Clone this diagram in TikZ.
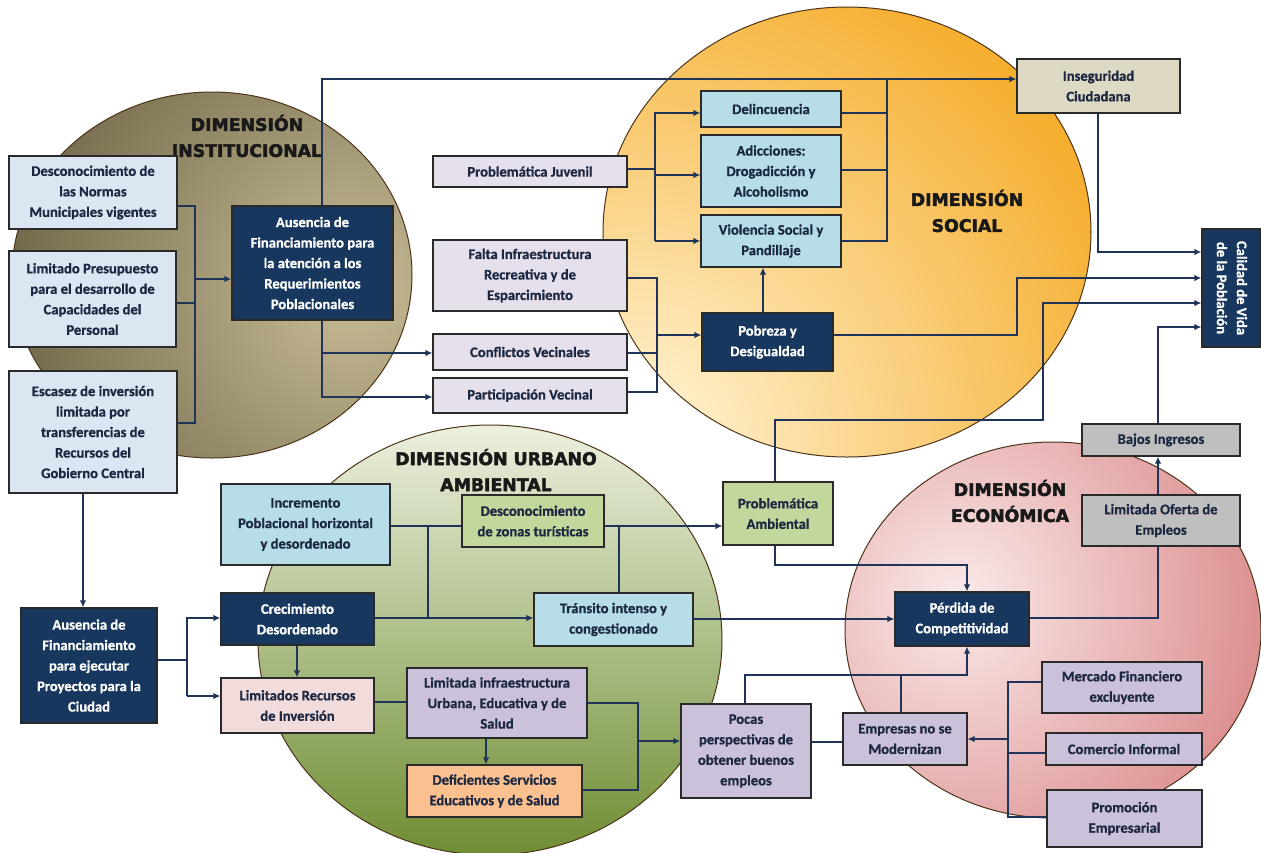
\documentclass[tikz,border=0pt]{standalone}
\usepackage{fontspec}
\setmainfont{Carlito}[BoldFeatures={FakeBold=0.8}]
\newfontfamily\headfont{DejaVu Sans}[BoldFeatures={FakeBold=2.6}]
\usetikzlibrary{arrows.meta}
\definecolor{txt}{HTML}{1C2841}
\definecolor{conncol}{HTML}{1F3458}
\definecolor{boxline}{HTML}{2A2A2A}
\definecolor{cBlueGray}{HTML}{DCE6F2}
\definecolor{cNavy}{HTML}{17375E}
\definecolor{cLavL}{HTML}{E5E0EC}
\definecolor{cCyan}{HTML}{B7DEE8}
\definecolor{cBeige}{HTML}{DDD9C4}
\definecolor{cGray}{HTML}{BFBFBF}
\definecolor{cGreen}{HTML}{C3D69B}
\definecolor{cPink}{HTML}{F2DCDB}
\definecolor{cLav}{HTML}{CCC1DA}
\definecolor{cOrange}{HTML}{FAC090}
\definecolor{instIn}{HTML}{C8BD96}
\definecolor{instOut}{HTML}{6A5F42}
\definecolor{socIn}{HTML}{FFF5D8}
\definecolor{socOut}{HTML}{F5A922}
\definecolor{ecoIn}{HTML}{FAEAEA}
\definecolor{ecoOut}{HTML}{D98585}
\definecolor{urbTop}{HTML}{ECF0DE}
\definecolor{urbBot}{HTML}{6F8D33}
\tikzset{
  bx/.style={draw=boxline, line width=1.1pt, align=center, inner sep=1pt,
    font=\bfseries\fontsize{14.6}{20.5}\selectfont, text=txt},
  darkbx/.style={bx, fill=cNavy, text=white},
  conn/.style={draw=conncol, line width=1.8pt},
  arr/.style={conn, -{Latex[length=7pt,width=6.5pt]}},
  head/.style={align=center, font=\headfont\bfseries\fontsize{17.3}{26}\selectfont, text=black!90},
  circline/.style={draw=black!60!brown, line width=1pt}
}
\begin{document}
\begin{tikzpicture}[x=1pt,y=-1pt]
\useasboundingbox (0,0) rectangle (1261,852);
\fill[white] (0,0) rectangle (1261,852);

% ---- dimension circles ----
\begin{scope}
  \clip (212,275) ellipse [x radius=200, y radius=183];
  \shade[inner color=instIn, outer color=instOut] (350,290) circle [radius=380];
\end{scope}
\draw[circline] (212,275) ellipse [x radius=200, y radius=183];
\begin{scope}
  \clip (847,232) ellipse [x radius=244, y radius=225];
  \shade[inner color=socIn, outer color=socOut] (640,440) circle [radius=560];
\end{scope}
\draw[circline] (847,232) ellipse [x radius=244, y radius=225];
\begin{scope}
  \clip (1053,630) ellipse [x radius=208, y radius=188];
  \shade[inner color=ecoIn, outer color=ecoOut] (960,600) circle [radius=340];
\end{scope}
\draw[circline] (1053,630) ellipse [x radius=208, y radius=188];
\shade[top color=urbTop, bottom color=urbBot]
  (490,640) ellipse [x radius=232, y radius=215];
\draw[circline] (490,640) ellipse [x radius=232, y radius=215];

% ---- headings ----
\node[head] (hInst) at (247,136) {DIMENSIÓN\\INSTITUCIONAL};
\node[head] (hSoc) at (967,211) {DIMENSIÓN\\SOCIAL};
\node[head] (hUrb) at (496,470) {DIMENSIÓN URBANO\\AMBIENTAL};
\node[head] (hEco) at (1010,501) {DIMENSIÓN\\ECONÓMICA};

% ---- boxes ----
\node[bx, fill=cBlueGray, minimum width=168, minimum height=73] (B1) at (93,192.5) {Desconocimiento de\\las Normas\\Municipales vigentes};
\node[bx, fill=cBlueGray, minimum width=167, minimum height=96] (B2) at (92.5,299) {Limitado Presupuesto\\para el desarrollo de\\Capacidades del\\Personal};
\node[bx, fill=cBlueGray, minimum width=168, minimum height=122] (B3) at (93,432) {Escasez de inversión\\limitada por\\transferencias de\\Recursos del\\Gobierno Central};
\node[darkbx, minimum width=161, minimum height=114] (A1) at (312.5,263) {Ausencia de\\Financiamiento para\\la atención a los\\Requerimientos\\Poblacionales};

\node[bx, fill=cLavL, minimum width=194, minimum height=31] (PJ) at (530,171.5) {Problemática Juvenil};
\node[bx, fill=cLavL, minimum width=194, minimum height=71] (FI) at (530,275.5) {Falta Infraestructura\\Recreativa y de\\Esparcimiento};
\node[bx, fill=cLavL, minimum width=194, minimum height=36] (CV) at (530,352) {Conflictos Vecinales};
\node[bx, fill=cLavL, minimum width=194, minimum height=35] (PV) at (530,395.5) {Participación Vecinal};

\node[bx, fill=cCyan, minimum width=140, minimum height=36] (DEL) at (771,109) {Delincuencia};
\node[bx, fill=cCyan, minimum width=140, minimum height=72] (AD) at (771,171) {Adicciones:\\Drogadicción y\\Alcoholismo};
\node[bx, fill=cCyan, minimum width=140, minimum height=52] (VS) at (771,241) {Violencia Social y\\Pandillaje};
\node[darkbx, minimum width=131, minimum height=58] (PD) at (767.5,342) {Pobreza y\\Desigualdad};

\node[bx, fill=cBeige, minimum width=163, minimum height=54] (IC) at (1098.5,86) {Inseguridad\\Ciudadana};
\node[darkbx, minimum width=58, minimum height=118] (CVP) at (1231,288) {\rotatebox{-90}{\begin{tabular}{@{}c@{}}Calidad de Vida\\[-0.5pt]de la Población\end{tabular}}};
\node[bx, fill=cGray, minimum width=158, minimum height=32] (BI) at (1161,440) {Bajos Ingresos};
\node[bx, fill=cGray, minimum width=158, minimum height=51] (LO) at (1161,520.5) {Limitada Oferta de\\Empleos};
\node[darkbx, minimum width=134, minimum height=54] (PC) at (962,619) {Pérdida de\\Competitividad};
\node[bx, fill=cLav, minimum width=124, minimum height=52] (EM) at (905,739) {Empresas no se\\Modernizan};
\node[bx, fill=cLav, minimum width=130, minimum height=94] (Pocas) at (746,751) {Pocas\\perspectivas de\\obtener buenos\\empleos};
\node[bx, fill=cLav, minimum width=160, minimum height=51] (MF) at (1122,687.5) {Mercado Financiero\\excluyente};
\node[bx, fill=cLav, minimum width=156, minimum height=32] (CI) at (1124,749) {Comercio Informal};
\node[bx, fill=cLav, minimum width=155, minimum height=57] (PE) at (1124.5,818.5) {Promoción\\Empresarial};

\node[darkbx, minimum width=136, minimum height=115] (A2) at (89,665.5) {Ausencia de\\Financiamiento\\para ejecutar\\Proyectos para la\\Ciudad};
\node[darkbx, minimum width=153, minimum height=52] (CD) at (297.5,619) {Crecimiento\\Desordenado};
\node[bx, fill=cPink, minimum width=153, minimum height=55] (LR) at (297.5,705.5) {Limitados Recursos\\de Inversión};
\node[bx, fill=cCyan, minimum width=169, minimum height=81] (IP) at (305.5,524.5) {Incremento\\Poblacional horizontal\\y desordenado};
\node[bx, fill=cGreen, minimum width=142, minimum height=52] (DZ) at (533,521) {Desconocimiento\\de zonas turísticas};
\node[bx, fill=cCyan, minimum width=159, minimum height=53] (TR) at (613.5,619.5) {Tránsito intenso y\\congestionado};
\node[bx, fill=cGreen, minimum width=110, minimum height=63] (PA) at (778,513.5) {Problemática\\Ambiental};
\node[bx, fill=cLav, minimum width=180, minimum height=70] (LI) at (497,703) {Limitada infraestructura\\Urbana, Educativa y de\\Salud};
\node[bx, fill=cOrange, minimum width=175, minimum height=52] (DS) at (494.5,791) {Deficientes Servicios\\Educativos y de Salud};

% ---- connectors ----
% institucional
\draw[conn] (B1.east |- 0,206) -| (195,423) -- (B3.east |- 0,423);
\draw[conn] (B2.east |- 0,303) -- (195,303);
\draw[arr] (195,279) -- (A1.west |- 0,279);
\draw[arr] (A1.north -| 322,0) |- (IC.west |- 0,79);
\draw[arr] (A1.south -| 322,0) |- (PV.west |- 0,397);
\draw[arr] (322,353) -- (CV.west |- 0,353);
% social
\draw[conn] (PJ.east |- 0,169) -- (655,169);
\draw[arr] (655,241) |- (DEL.west |- 0,113);
\draw[arr] (655,175) -- (AD.west |- 0,175);
\draw[arr] (655,241) -- (VS.west |- 0,241);
\draw[conn] (FI.east |- 0,278) -| (657,392) -- (PV.east |- 0,392);
\draw[conn] (CV.east |- 0,353) -- (657,353);
\draw[arr] (657,335) -- (PD.west |- 0,335);
\draw[arr] (PD.north -| 763,0) -- (VS.south -| 763,0);
\draw[conn] (VS.east |- 0,241) -| (887,79);
\draw[conn] (DEL.east |- 0,113) -- (887,113);
\draw[conn] (AD.east |- 0,170) -- (887,170);
% calidad de vida
\draw[arr] (IC.south -| 1098,0) |- (CVP.west |- 0,252);
\draw[arr] (PD.east |- 0,335) -| (1017,278) -- (CVP.west |- 0,278);
\draw[arr] (PA.north -| 775,0) -- (775,420) -| (1043,303) -- (CVP.west |- 0,303);
\draw[arr] (BI.north -| 1158,0) |- (CVP.west |- 0,327);
% economica
\draw[arr] (LO.north -| 1158,0) -- (BI.south -| 1158,0);
\draw[conn] (PC.east |- 0,618) -| (LO.south -| 1158,0);
\draw[arr] (PA.south -| 775,0) |- (967,565) -- (PC.north -| 967,0);
\draw[arr] (TR.east |- 0,619) -- (PC.west |- 0,619);
\draw[arr] (Pocas.north -| 745,0) |- (967,675) -- (PC.south -| 967,0);
\draw[conn] (EM.north -| 901,0) -- (901,675);
\draw[conn] (EM.west |- 0,742) -- (Pocas.east |- 0,742);
\draw[conn] (MF.west |- 0,682) -| (1008,817) -- (PE.west |- 0,817);
\draw[conn] (CI.west |- 0,753) -- (1008,753);
\draw[arr] (1008,739) -- (EM.east |- 0,739);
% urbano ambiental
\draw[arr] (B3.south -| 83,0) -- (A2.north -| 83,0);
\draw[conn] (A2.east |- 0,660) -- (187,660);
\draw[arr] (187,696) |- (CD.west |- 0,618);
\draw[arr] (187,696) -- (LR.west |- 0,696);
\draw[arr] (CD.south -| 297,0) -- (LR.north -| 297,0);
\draw[arr] (CD.east |- 0,618) -- (TR.west |- 0,618);
\draw[conn] (IP.east |- 0,526) -- (DZ.west |- 0,526);
\draw[conn] (428,526) -- (428,618);
\draw[arr] (DZ.east |- 0,526) -- (PA.west |- 0,526);
\draw[conn] (619,526) -- (TR.north -| 619,0);
\draw[conn] (LR.east |- 0,702) -- (LI.west |- 0,702);
\draw[arr] (LI.south -| 486,0) -- (DS.north -| 486,0);
\draw[conn] (LI.east |- 0,703) -| (638,790) -- (DS.east |- 0,790);
\draw[arr] (638,741) -- (Pocas.west |- 0,741);
\end{tikzpicture}
\end{document}
